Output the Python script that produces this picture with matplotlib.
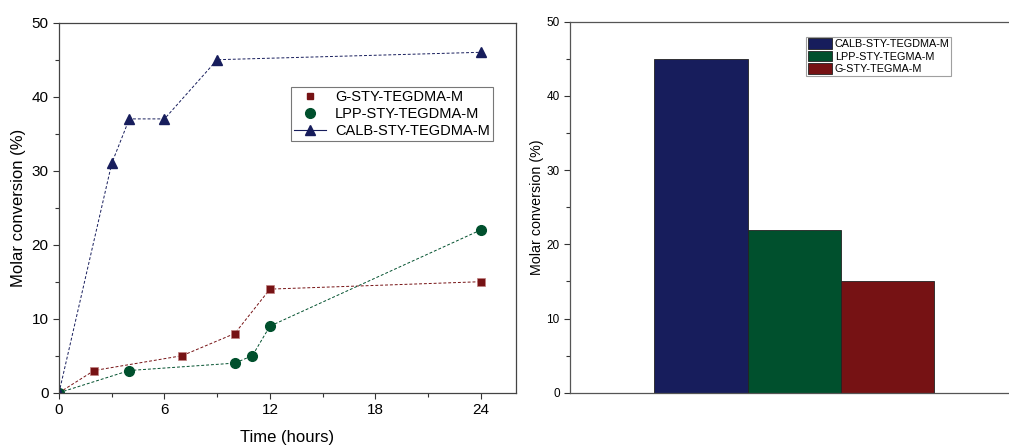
import matplotlib
matplotlib.use("Agg")
import matplotlib.pyplot as plt
from matplotlib.lines import Line2D
from matplotlib.patches import Patch

plt.rcParams['font.family'] = ['Liberation Sans', 'DejaVu Sans']

# data
g_time = [0, 2, 7, 10, 12, 24]
g_conv = [0, 3, 5, 8, 14, 15]
lpp_time = [0, 4, 10, 11, 12, 24]
lpp_conv = [0, 3, 4, 5, 9, 22]
calb_time = [0, 3, 4, 6, 9, 24]
calb_conv = [0, 31, 37, 37, 45, 46]

bar_labels = ['CALB-STY-TEGDMA-M', 'LPP-STY-TEGMA-M', 'G-STY-TEGMA-M']
bar_values = [45, 22, 15]

blue = '#171d5c'
green = '#00502d'
red = '#761214'

fig = plt.figure(figsize=(10.09, 4.45), dpi=100)

# left: time course
ax1 = fig.add_axes([0.0585, 0.1175, 0.4529, 0.8315])
ax1.plot(g_time, g_conv, color=red, ls=(0, (3, 2)), lw=0.7,
         marker='s', ms=6, mfc=red, mec='#c08080', mew=0.5)
ax1.plot(lpp_time, lpp_conv, color=green, ls=(0, (3, 2)), lw=0.7,
         marker='o', ms=7, mfc=green, mec=green)
ax1.plot(calb_time, calb_conv, color=blue, ls=(0, (3, 2)), lw=0.7,
         marker='^', ms=7, mfc=blue, mec=blue)

ax1.set_xlim(0, 26)
ax1.set_ylim(0, 50)
ax1.set_xticks([0, 6, 12, 18, 24])
ax1.set_xticks([3, 9, 15, 21], minor=True)
ax1.set_yticks([0, 10, 20, 30, 40, 50])
ax1.set_yticks([5, 15, 25, 35, 45], minor=True)
ax1.tick_params(which='major', direction='out', length=4, width=0.8,
                labelsize=11, colors='#333333', labelcolor='black')
ax1.tick_params(which='minor', direction='out', length=3, width=0.8, colors='#333333')
for s in ax1.spines.values():
    s.set_color('#444444')
    s.set_linewidth(0.9)
ax1.set_xlabel('Time (hours)', fontsize=12, labelpad=9)
ax1.set_ylabel('Molar conversion (%)', fontsize=12, labelpad=4)

handles1 = [
    Line2D([], [], ls='none', marker='s', ms=5, color=red),
    Line2D([], [], ls='none', marker='o', ms=7, color=green),
    Line2D([], [], ls='-', lw=0.8, marker='^', ms=7, color=blue),
]
leg1 = ax1.legend(handles1, ['G-STY-TEGDMA-M', 'LPP-STY-TEGDMA-M', 'CALB-STY-TEGDMA-M'],
                  loc='upper left', bbox_to_anchor=(0.508, 0.826), fontsize=10.5,
                  frameon=True, fancybox=False, borderpad=0.2, labelspacing=0.2,
                  handlelength=2.2, handletextpad=0.6, borderaxespad=0)
leg1.get_frame().set_edgecolor('#555555')
leg1.get_frame().set_linewidth(0.8)

# right: bars
ax2 = fig.add_axes([0.565, 0.1175, 0.435, 0.8335])
xpos = [0, 1, 2]
ax2.bar(xpos, bar_values, width=1.0, color=[blue, green, red],
        edgecolor='#222222', linewidth=0.6)
ax2.set_xlim(-1.404, 3.30)
ax2.set_ylim(0, 50)
ax2.set_xticks([])
ax2.set_yticks([0, 10, 20, 30, 40, 50])
ax2.set_yticks([5, 15, 25, 35, 45], minor=True)
ax2.tick_params(which='major', direction='out', length=4, width=0.8,
                labelsize=8.5, colors='#333333', labelcolor='black')
ax2.tick_params(which='minor', direction='out', length=3, width=0.8, colors='#333333')
for s in ax2.spines.values():
    s.set_color('#555555')
    s.set_linewidth(0.9)
ax2.spines['right'].set_visible(False)
ax2.set_ylabel('Molar conversion (%)', fontsize=10.3, labelpad=2)

handles2 = [Patch(facecolor=c, edgecolor='#222222', linewidth=0.6) for c in [blue, green, red]]
leg2 = ax2.legend(handles2, bar_labels, loc='upper left', bbox_to_anchor=(0.538, 0.96),
                  fontsize=7.8, frameon=True, fancybox=False, borderpad=0.15,
                  labelspacing=0.12, handlelength=2.2, handleheight=1.15,
                  handletextpad=0.3, borderaxespad=0)
leg2.get_frame().set_edgecolor('#888888')
leg2.get_frame().set_linewidth(0.8)

fig.savefig('out.png', dpi=100)
